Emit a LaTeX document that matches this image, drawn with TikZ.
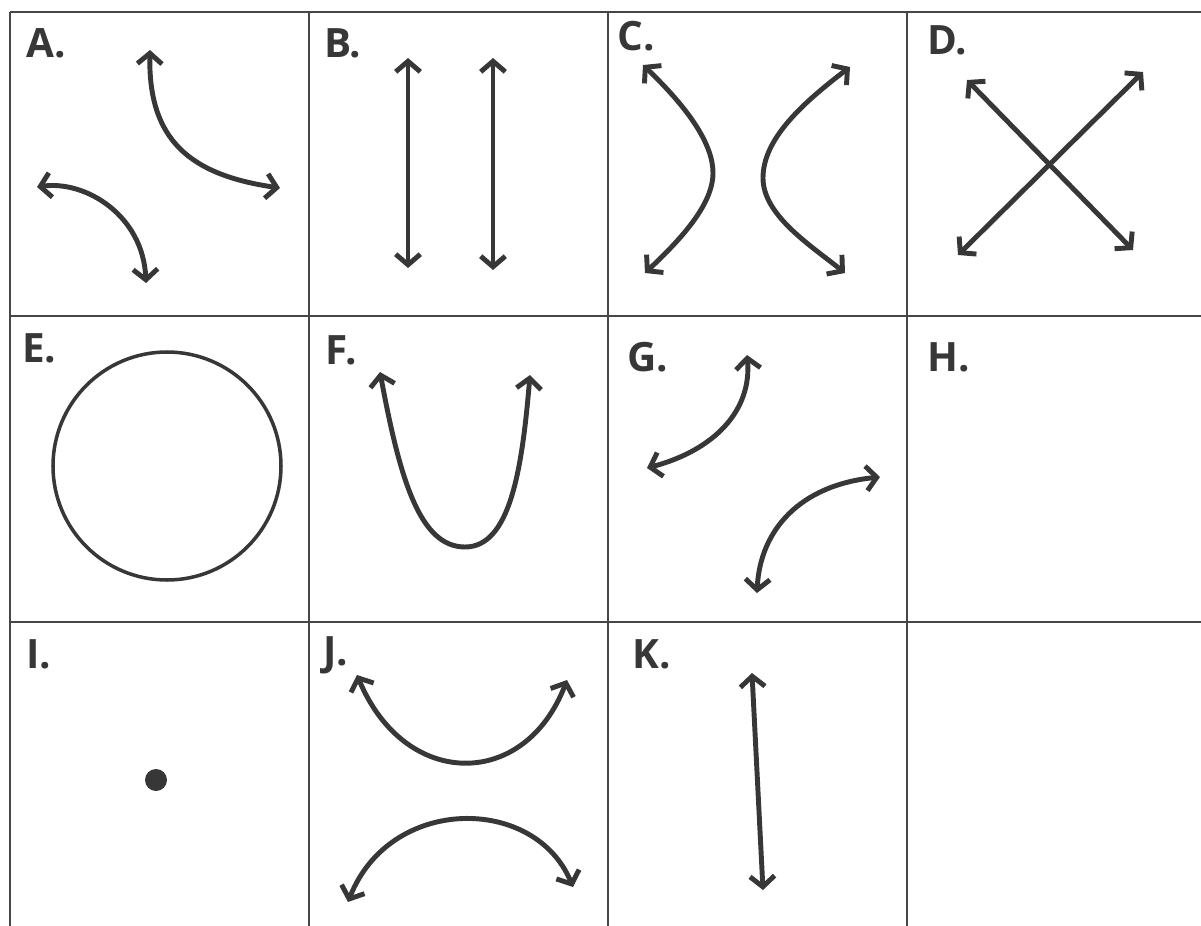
\documentclass[tikz,border=0pt]{standalone}
\usepackage{fontspec}
\setmainfont{Open Sans}
\usepackage{tikz}
\usetikzlibrary{arrows.meta}
\definecolor{sketchgray}{RGB}{55,55,55}
\definecolor{gridgray}{RGB}{70,70,70}
\tikzset{
  gridline/.style={line width=1.2pt, color=gridgray},
  flowarrow/.style={
    {Straight Barb[length=6pt,width=14pt]}-{Straight Barb[length=6pt,width=14pt]},
    line width=2.8pt, line cap=round, color=sketchgray
  },
  orbit/.style={line width=2pt, color=sketchgray},
  tag/.style={anchor=base west, inner sep=0pt,
    font=\fontsize{23}{26}\selectfont\bfseries, color=sketchgray}
}

\begin{document}
\begin{tikzpicture}[x=0.02cm, y=-0.02cm]
  \useasboundingbox (0,0) rectangle (1201,926);
  % Grid
  \foreach \x in {10,309,608,907} {
    \draw[gridline] (\x,12) -- (\x,926);
  }
  \foreach \y in {12,316,622} {
    \draw[gridline] (10,\y) -- (1201,\y);
  }
  % Panel labels
  \foreach \nm/\x/\y in {A/26/58,B/324/58,C/617/51,D/927/55,
                         E/22/362,F/325/364,G/627/371,H/927/371,
                         I/26/668,J/323/665,K/632/668} {
    \node[tag] (lab\nm) at (\x,\y) {\nm.};
  }
  % A
  \draw[flowarrow] (150,50) .. controls (148,140) and (190,175) .. (280,188);
  \draw[flowarrow] (37,187) .. controls (85,180) and (143,215) .. (146,283);
  % B
  \draw[flowarrow] (408,58) -- (408,268);
  \draw[flowarrow] (493,58) -- (493,270);
  % C
  \draw[flowarrow] (643,65) .. controls (690,110) and (713,145) .. (713,173)
    .. controls (713,205) and (680,240) .. (645,273);
  \draw[flowarrow] (850,67) .. controls (800,105) and (763,140) .. (763,178)
    .. controls (763,215) and (810,245) .. (845,273);
  % D
  \draw[flowarrow] (967,80) -- (1133,250);
  \draw[flowarrow] (1143,72) -- (958,255);
  % E
  \draw[orbit] (167,466) circle[radius=114];
  % F
  \draw[flowarrow] (380,372) .. controls (400,480) and (420,547) .. (465,547)
    .. controls (510,547) and (522,470) .. (530,375);
  % G
  \draw[flowarrow] (747,355) .. controls (752,410) and (715,450) .. (647,468);
  \draw[flowarrow] (880,477) .. controls (800,485) and (760,530) .. (757,593);
  % I
  \fill[sketchgray] (156,780) circle[radius=11];
  % J
  \draw[flowarrow] (357,675) .. controls (405,790) and (525,790) .. (567,680);
  \draw[flowarrow] (348,902) .. controls (390,795) and (535,795) .. (573,887);
  % K
  \draw[flowarrow] (752,673) -- (763,890);
\end{tikzpicture}
\end{document}
